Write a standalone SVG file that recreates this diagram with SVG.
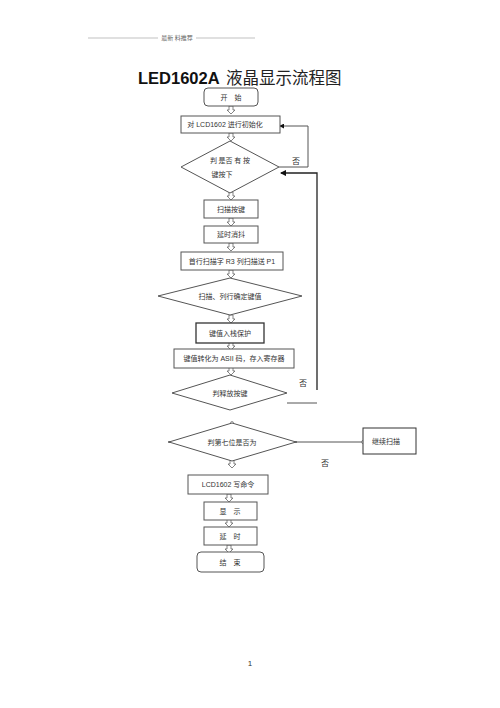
<svg xmlns="http://www.w3.org/2000/svg" width="500" height="708" viewBox="0 0 500 708">
<style>
.bx{fill:#fff;stroke:#555;stroke-width:1}
.t{font-family:"Liberation Serif","Noto Sans CJK SC",serif;font-size:7px;fill:#333;text-anchor:middle}
.ts{font-family:"Liberation Sans","Noto Sans CJK SC",sans-serif;font-size:7px;fill:#333;text-anchor:middle}
.ln{fill:none;stroke:#555;stroke-width:1}
.lk{fill:none;stroke:#222;stroke-width:1.3}
.ar{fill:#fff;stroke:#666;stroke-width:0.8}
</style>
<defs>
<path id="da" class="ar" d="M-2,0 V4 H-4 L0,8 L4,4 H2 V0 Z"/>
<marker id="ah" viewBox="0 0 6 6" refX="5" refY="3" markerWidth="5" markerHeight="5" orient="auto"><path d="M0,0 L6,3 L0,6 Z" fill="#111"/></marker>
</defs>
<rect width="500" height="708" fill="#fff"/>
<g id="header">
<line x1="88" y1="38" x2="158" y2="38" stroke="#999" stroke-width="0.6"/>
<line x1="196" y1="38" x2="255" y2="38" stroke="#999" stroke-width="0.6"/>
<text x="177" y="40" class="t" style="font-size:6px;fill:#666">最新 料推荐</text>
</g>
<g id="title">
<text x="138" y="84" style="font-family:'Liberation Sans',sans-serif;font-size:16.5px;font-weight:bold;fill:#111">LED1602A</text>
<text x="226" y="84" style="font-family:'Noto Sans CJK SC',sans-serif;font-size:16.5px;fill:#222">液晶显示流程图</text>
</g>
<g id="connectors">
<use href="#da" x="231" y="106"/>
<use href="#da" x="231" y="133"/>
<use href="#da" x="231" y="192"/>
<use href="#da" x="231" y="218"/>
<use href="#da" x="231" y="243"/>
<use href="#da" x="231" y="270"/>
<use href="#da" x="231" y="315"/>
<use href="#da" x="231" y="342"/>
<use href="#da" x="231" y="367"/>
<use href="#da" x="232" y="460"/>
<use href="#da" x="229" y="494"/>
<use href="#da" x="229" y="519"/>
<use href="#da" x="229" y="545"/>
<path class="ln" d="M279,167 H308 V126 H280" marker-end="url(#ah)"/>
<path class="lk" d="M317,390 V173 H281" marker-end="url(#ah)"/>
<path class="ln" d="M287,403 H317"/>
<path class="ln" d="M296,442 H362"/>
<circle cx="363" cy="442" r="1.5" fill="#fff" stroke="#555" stroke-width="0.6"/>
<circle cx="232" cy="423" r="1.5" fill="#fff" stroke="#555" stroke-width="0.6"/>
<circle cx="169" cy="442" r="1" fill="#555"/>
<circle cx="296" cy="442" r="1" fill="#555"/>
<text x="296" y="164" class="t" style="font-size:8px">否</text>
<text x="303" y="386" class="t" style="font-size:8px">否</text>
<text x="325" y="466" class="t" style="font-size:8px">否</text>
</g>
<g id="start"><rect class="bx" x="204" y="88" width="54" height="18" rx="4"/><text x="231" y="100" class="t">开　始</text></g>
<g id="init"><rect class="bx" x="181" y="116" width="99" height="17"/><text x="225" y="127" class="ts">对 LCD1602 进行初始化</text></g>
<g id="d1"><polygon class="bx" points="181,167 230,141 279,167 230,193"/><text x="230" y="163" class="t">判 是否 有 按</text><text x="222" y="177" class="t">键按下</text></g>
<g id="scan"><rect class="bx" x="204" y="200" width="54" height="18"/><text x="231" y="212" class="t">扫描按键</text></g>
<g id="delay1"><rect class="bx" x="204" y="226" width="54" height="17"/><text x="231" y="237" class="t">延时消抖</text></g>
<g id="row"><rect class="bx" x="181" y="252" width="102" height="18"/><text x="232" y="264" class="ts">首行扫描字  R3 列扫描送  P1</text></g>
<g id="d2"><polygon class="bx" points="158,296 230,278 302,296 230,315"/><text x="230" y="299" class="t">扫描、列行确定键值</text></g>
<g id="push"><rect class="bx" x="196" y="323" width="68" height="20" style="stroke:#333;stroke-width:1.3"/><text x="230" y="336" class="t">键值入栈保护</text></g>
<g id="ascii"><rect class="bx" x="174" y="349" width="120" height="19"/><text x="234" y="361" class="ts">键值转化为  ASII 码，存入寄存器</text></g>
<g id="d3"><polygon class="bx" points="172,393 230,375 287,393 230,410"/><text x="230" y="396" class="t">判释放按键</text></g>
<g id="d4"><polygon class="bx" points="169,442 232,423 296,442 232,461"/><text x="232" y="445" class="t">判第七位是否为</text></g>
<g id="cont"><rect class="bx" x="363" y="428" width="53" height="26" style="stroke:#333"/><text x="386" y="444" class="t">继续扫描</text></g>
<g id="cmd"><rect class="bx" x="188" y="475" width="80" height="19"/><text x="228" y="487" class="ts">LCD1602 写命令</text></g>
<g id="show"><rect class="bx" x="204" y="502" width="53" height="18"/><text x="230" y="514" class="t">显　示</text></g>
<g id="delay2"><rect class="bx" x="204" y="527" width="53" height="18"/><text x="230" y="539" class="t">延　时</text></g>
<g id="end"><rect class="bx" x="197" y="552" width="67" height="20" rx="4"/><text x="230" y="565" class="t">结　束</text></g>
<text x="250" y="666" class="ts" style="font-size:8px">1</text>
</svg>
